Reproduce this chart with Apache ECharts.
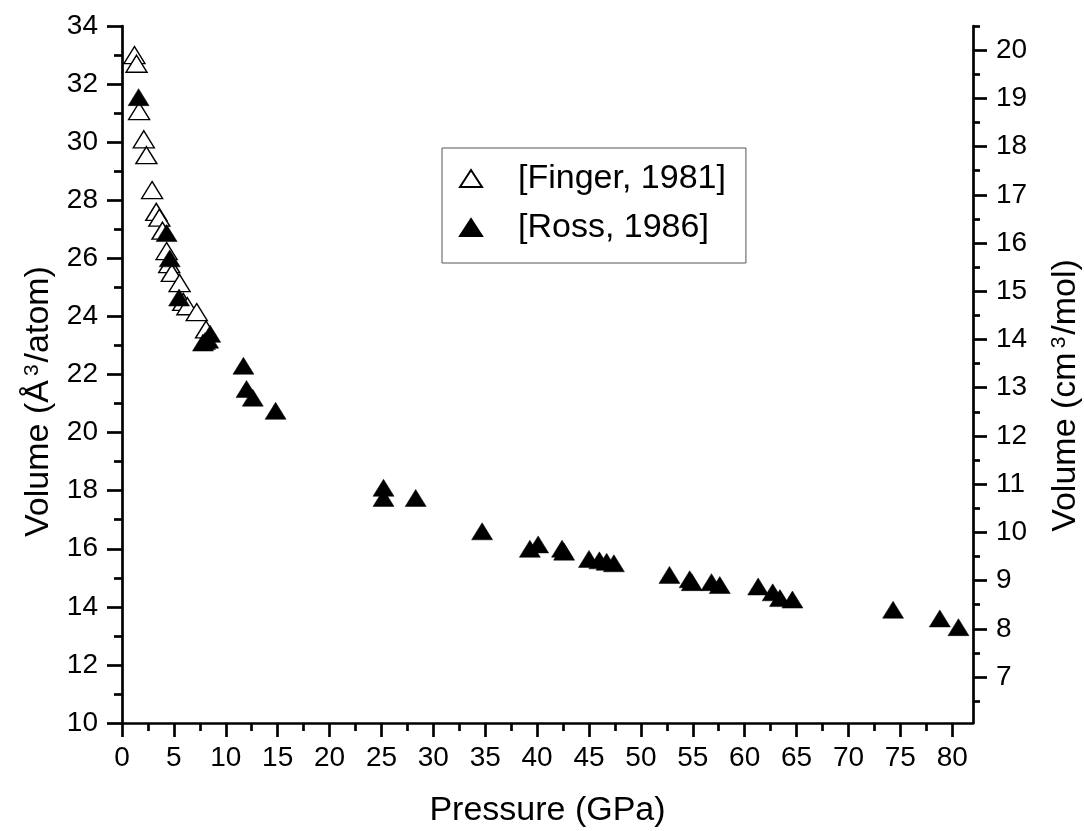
<!DOCTYPE html>
<html>
<head>
<meta charset="utf-8">
<title>Volume vs Pressure</title>
<script src="https://cdn.jsdelivr.net/npm/echarts@6/dist/echarts.min.js"></script>
<style>
  html, body { margin: 0; padding: 0; background: #ffffff; }
  #chart { width: 1084px; height: 831px; }
</style>
</head>
<body>
<div id="chart"></div>
<script>
// Compression data: pressure (GPa) and atomic volume (Å^3/atom)
const fingerPressure = [1.2, 1.4, 1.65, 2.1, 2.35, 2.9, 3.3, 3.6, 3.9, 4.3, 4.55, 4.8, 5.55, 5.9, 6.3, 7.2, 8.1];
const fingerVolume   = [33.0, 32.7, 31.07, 30.1, 29.55, 28.35, 27.6, 27.4, 26.95, 26.25, 25.8, 25.5, 25.15, 24.5, 24.35, 24.15, 23.55];

const rossPressure = [1.6, 4.3, 4.6, 5.5, 7.8, 8.0, 8.3, 8.5, 11.7, 12.0, 12.6, 14.8,
                      25.2, 25.2, 28.3, 34.7, 39.3, 40.1, 42.4, 42.6, 45.0, 46.0, 46.7, 47.4,
                      52.75, 54.7, 54.9, 56.8, 57.6, 61.3, 62.7, 63.4, 64.6, 74.3, 78.8, 80.6];
const rossVolume   = [31.55, 26.87, 26.0, 24.65, 23.1, 23.15, 23.2, 23.4, 22.3, 21.5, 21.2, 20.75,
                      18.1, 17.75, 17.75, 16.6, 16.0, 16.15, 16.0, 15.9, 15.65, 15.6, 15.55, 15.5,
                      15.1, 14.95, 14.85, 14.85, 14.75, 14.7, 14.5, 14.3, 14.25, 13.9, 13.6, 13.3];

// Axis tick values
const pressureMajorTicks = [0, 5, 10, 15, 20, 25, 30, 35, 40, 45, 50, 55, 60, 65, 70, 75, 80];
const pressureMinorTicks = [2.5, 7.5, 12.5, 17.5, 22.5, 27.5, 32.5, 37.5, 42.5, 47.5, 52.5, 57.5, 62.5, 67.5, 72.5, 77.5];
const molarMajorTicks = [7, 8, 9, 10, 11, 12, 13, 14, 15, 16, 17, 18, 19, 20];
const molarMinorTicks = [6.5, 7.5, 8.5, 9.5, 10.5, 11.5, 12.5, 13.5, 14.5, 15.5, 16.5, 17.5, 18.5, 19.5, 20.5];

// Å^3/atom -> cm^3/mol
const MOLAR_FACTOR = 0.6022;
const volMin = 10, volMax = 34;
const molarMax = 20.5;
const molarMin = molarMax - (volMax - volMin) * MOLAR_FACTOR;

const zip = (xs, ys) => xs.map((x, i) => [x, ys[i]]);

const FONT = '"Liberation Sans", Arial, sans-serif';
const axisColor = '#000000';
const lineW = 2.7;
const TICK_FONT = 28;

const chart = echarts.init(document.getElementById('chart'), null, { renderer: 'canvas' });

const nameRich = {
  a: { fontSize: 34, fontFamily: FONT, color: '#000' },
  s: { fontSize: 21, fontFamily: FONT, color: '#000', verticalAlign: 'top', padding: [0, 2, 0, 4] }
};

const lineStyle = { color: axisColor, width: lineW };

chart.setOption({
  backgroundColor: '#ffffff',
  animation: false,
  grid: { left: 122, right: 111, top: 26, bottom: 108, outerBoundsMode: 'none' },
  legend: {
    orient: 'vertical',
    left: 442,
    top: 148,
    padding: [12, 20, 17, 17],
    itemGap: 12,
    itemWidth: 22,
    itemHeight: 17,
    symbolKeepAspect: false,
    borderColor: '#555555',
    borderWidth: 1,
    textStyle: { fontSize: 34, fontFamily: FONT, color: '#000', lineHeight: 37, padding: [0, 0, 0, 31] },
    data: ['[Finger, 1981]', '[Ross, 1986]']
  },
  xAxis: [
    {
      type: 'value', min: 0, max: 82,
      name: 'Pressure (GPa)', nameLocation: 'middle', nameGap: 71,
      nameTextStyle: { fontSize: 34, fontFamily: FONT, color: '#000' },
      axisLine: { show: true, onZero: false, lineStyle },
      axisTick: { show: true, length: 14, customValues: pressureMajorTicks, lineStyle },
      axisLabel: { customValues: pressureMajorTicks, margin: 21, fontSize: TICK_FONT, fontFamily: FONT, color: '#000' },
      splitLine: { show: false }
    },
    {
      type: 'value', min: 0, max: 82, position: 'bottom',
      axisLine: { show: false, onZero: false },
      axisTick: { show: true, length: 8, customValues: pressureMinorTicks, lineStyle },
      axisLabel: { show: false },
      splitLine: { show: false }
    }
  ],
  yAxis: [
    {
      type: 'value', min: volMin, max: volMax, interval: 2, position: 'left',
      name: '{a|Volume (Å}{s|3}{a|/atom)}', nameLocation: 'middle', nameRotate: 90, nameGap: 62,
      nameTextStyle: { rich: nameRich, padding: [0, 54, 0, 0] },
      axisLine: { show: true, onZero: false, lineStyle },
      axisTick: { show: true, length: 15, lineStyle },
      minorTick: { show: true, splitNumber: 2, length: 8, lineStyle },
      axisLabel: { margin: 24, fontSize: TICK_FONT, fontFamily: FONT, color: '#000' },
      splitLine: { show: false }
    },
    {
      type: 'value', min: molarMin, max: molarMax, position: 'right',
      name: '{a|Volume (cm}{s|3}{a|/mol)}', nameLocation: 'middle', nameRotate: 90, nameGap: 76,
      nameTextStyle: { rich: nameRich, padding: [0, 42, 0, 0] },
      axisLine: { show: true, onZero: false, lineStyle },
      axisTick: { show: true, length: 14, customValues: molarMajorTicks, lineStyle },
      axisLabel: { customValues: molarMajorTicks, margin: 23, fontSize: TICK_FONT, fontFamily: FONT, color: '#000' },
      splitLine: { show: false }
    },
    {
      type: 'value', min: molarMin, max: molarMax, position: 'right',
      axisLine: { show: false, onZero: false },
      axisTick: { show: true, length: 7, customValues: molarMinorTicks, lineStyle },
      axisLabel: { show: false },
      splitLine: { show: false }
    }
  ],
  series: [
    {
      name: '[Finger, 1981]', type: 'scatter', xAxisIndex: 0, yAxisIndex: 0,
      symbol: 'triangle', symbolSize: [21, 17],
      itemStyle: { color: '#ffffff', borderColor: '#000000', borderWidth: 1.4, opacity: 1 },
      emphasis: { disabled: true },
      data: zip(fingerPressure, fingerVolume)
    },
    {
      name: '[Ross, 1986]', type: 'scatter', xAxisIndex: 0, yAxisIndex: 0,
      symbol: 'triangle', symbolSize: [21, 17],
      itemStyle: { color: '#000000', borderColor: '#000000', borderWidth: 0.5, opacity: 1 },
      emphasis: { disabled: true },
      data: zip(rossPressure, rossVolume)
    }
  ]
});
</script>
</body>
</html>
